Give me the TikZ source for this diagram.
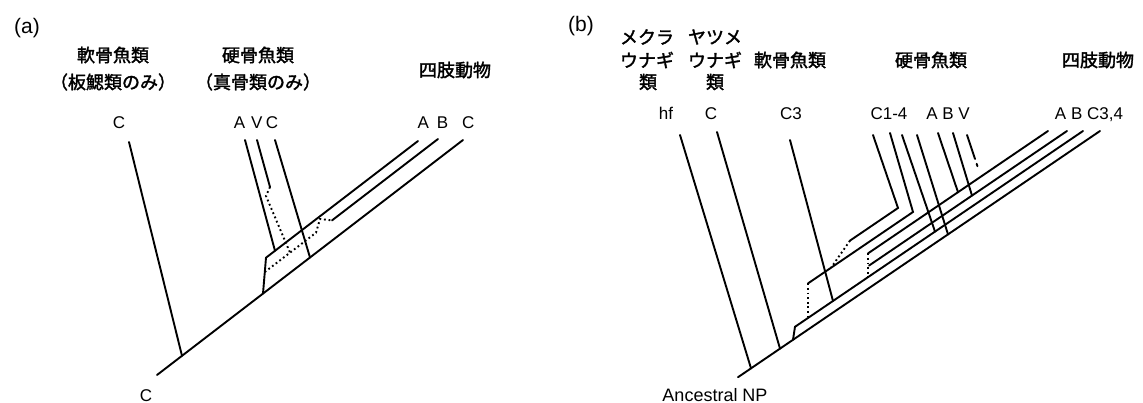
\documentclass[tikz,border=0pt]{standalone}
\usepackage{fontspec}
\setmainfont{Liberation Sans}
\newfontfamily\jp{Noto Sans CJK JP}[FakeBold=1.8]
\tikzset{
  br/.style={line width=1.9pt, line cap=round},
  hyp/.style={line width=1.9pt, dash pattern=on 1.8pt off 2.8pt},
  lab/.style={font=\fontsize{17}{17}\selectfont, inner sep=0pt, text height=12.2pt, text depth=0pt},
  jlab/.style={font=\jp\fontsize{18}{18}\selectfont, inner sep=0pt},
  tag/.style={font=\fontsize{21}{21}\selectfont, inner sep=0pt},
}
\begin{document}
\begin{tikzpicture}[x=1pt, y=-1pt]
\useasboundingbox (0,0) rectangle (1143,403);

% ---------------- (a) ----------------
\node[tag] (tagA) at (27,28) {(a)};
\node[jlab] (aCh1) at (113,55) {軟骨魚類};
\node[jlab] (aCh2) at (113,82) {（板鰓類のみ）};
\node[jlab] (aOs1) at (258,55) {硬骨魚類};
\node[jlab] (aOs2) at (258,82) {（真骨類のみ）};
\node[jlab] (aTe) at (455,70) {四肢動物};
\node[lab] (aLc) at (119,122) {C};
\node[lab] (aLavc) at (256,122) {A\hspace{6pt}V\hspace{3.5pt}C};
\node[lab] (aLabc) at (446,122) {A\hspace{8pt}B\hspace{14pt}C};
\node[lab] (aRoot) at (146,395) {C};

\coordinate (a0) at (157,375);
\coordinate (a1) at (463,140);
\coordinate (chT) at (129,142);
\coordinate (chB) at (182,355.8);
\coordinate (tb) at (263,293.6);
\coordinate (aS) at (266,257.7);
\coordinate (aE) at (418,141);
\coordinate (bS) at (332,220.4);
\coordinate (bE) at (438,139);
\coordinate (tAT) at (245,140);
\coordinate (tAB) at (275,250.8);
\coordinate (tVT) at (257,140);
\coordinate (tVB) at (270,187);
\coordinate (tVk) at (266,196);
\coordinate (tVE) at (290,252.6);
\coordinate (dS) at (264.8,272);
\coordinate (dK) at (316,232.7);
\coordinate (dP) at (320,219);
\coordinate (tCT) at (275,140);
\coordinate (tCB) at (310,257.5);

\draw[br] (a0) -- (a1);
\draw[br] (chT) -- (chB);
\draw[br] (tb) -- (aS) -- (aE);
\draw[br] (bS) -- (bE);
\draw[br] (tAT) -- (tAB);
\draw[br] (tVT) -- (tVB);
\draw[hyp] (tVB) -- (tVk) -- (tVE);
\draw[hyp] (dS) -- (dK) -- (dP) -- (bS);
\draw[br] (tCT) -- (tCB);

% ---------------- (b) ----------------
\node[tag] (tagB) at (581,26) {(b)};
\node[jlab] (bHa1) at (647,37) {メクラ};
\node[jlab] (bHa2) at (647,60) {ウナギ};
\node[jlab] (bHa3) at (648,82) {類};
\node[jlab] (bLa1) at (715,37) {ヤツメ};
\node[jlab] (bLa2) at (715,60) {ウナギ};
\node[jlab] (bLa3) at (715,82) {類};
\node[jlab] (bCh) at (790,60) {軟骨魚類};
\node[jlab] (bOs) at (931,60) {硬骨魚類};
\node[jlab] (bTe) at (1098,60) {四肢動物};
\node[lab] (bLhf) at (666,113) {hf};
\node[lab] (bLc) at (711,113) {C};
\node[lab] (bLc3) at (791,113) {C3};
\node[lab] (bLc14) at (889,113) {C1-4};
\node[lab] (bLabv) at (948,113) {A B V};
\node[lab] (bLabc) at (1089,113) {A B C3,4};
\node[lab, font=\fontsize{18}{18}\selectfont] (bRoot) at (715,395) {Ancestral NP};

\coordinate (r0) at (738,377.2);
\coordinate (r1) at (1100,131);
\coordinate (hfT) at (680,135);
\coordinate (hfB) at (751,368.3);
\coordinate (lpT) at (717,132);
\coordinate (lpB) at (780,348.6);
\coordinate (s0) at (793,339.8);
\coordinate (s1) at (795,326.8);
\coordinate (l1E) at (1083,131);
\coordinate (c3T) at (790,140);
\coordinate (c3B) at (833,301);
\coordinate (l3S) at (868,253.4);
\coordinate (l3E) at (1048,131);
\coordinate (l2S) at (869,265.6);
\coordinate (l2E) at (1067,131);
\coordinate (vq) at (868,277.2);
\coordinate (p2T) at (890,133);
\coordinate (p2K) at (913,212);
\coordinate (p2L) at (808,283.4);
\coordinate (p2D) at (808,318);
\coordinate (p1T) at (873,135);
\coordinate (p1K) at (898,208);
\coordinate (p1L) at (850,240.6);
\coordinate (p1D) at (831,267.8);
\coordinate (q3T) at (902,135);
\coordinate (q3B) at (935,231.6);
\coordinate (q4T) at (917,135);
\coordinate (q4B) at (948,234.4);
\coordinate (bAT) at (938,133);
\coordinate (bAB) at (958,192.2);
\coordinate (bBT) at (953,133);
\coordinate (bBB) at (972,195.6);
\coordinate (bVT) at (967,135);
\coordinate (bVB) at (975,159);
\coordinate (bVd1) at (976.6,163.8);
\coordinate (bVd2) at (977.4,166.2);

\draw[br] (r0) -- (r1);
\draw[br] (hfT) -- (hfB);
\draw[br] (lpT) -- (lpB);
\draw[br] (s0) -- (s1) -- (l1E);
\draw[br] (c3T) -- (c3B);
\draw[br] (l3S) -- (l3E);
\draw[br] (l2S) -- (l2E);
\draw[hyp] (l3S) -- (vq);
\draw[br] (p2T) -- (p2K) -- (p2L);
\draw[hyp] (p2L) -- (p2D);
\draw[br] (p1T) -- (p1K) -- (p1L);
\draw[hyp] (p1L) -- (p1D);
\draw[br] (q3T) -- (q3B);
\draw[br] (q4T) -- (q4B);
\draw[br] (bAT) -- (bAB);
\draw[br] (bBT) -- (bBB);
\draw[br] (bVT) -- (bVB);
\draw[br] (bVd1) -- (bVd2);
\end{tikzpicture}
\end{document}
